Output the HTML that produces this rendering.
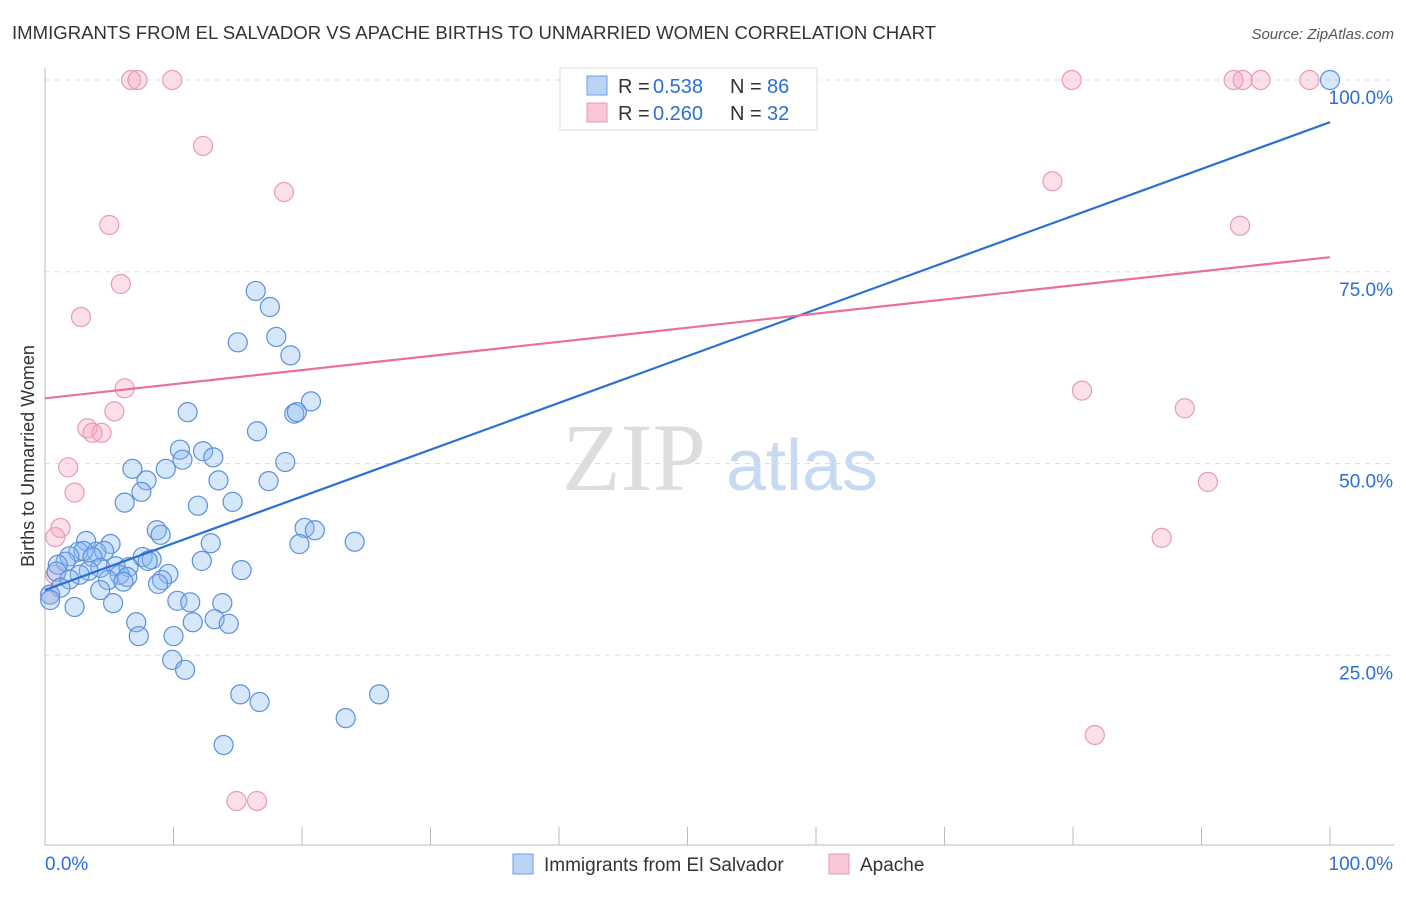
<!DOCTYPE html>
<html><head><meta charset="utf-8"><style>
body{margin:0;background:#fff;font-family:"Liberation Sans",sans-serif}
</style></head><body>
<svg id="chart" width="1406" height="892" xmlns="http://www.w3.org/2000/svg" font-family="Liberation Sans, sans-serif">
<text x="12" y="39" font-size="18" fill="#333" textLength="924" lengthAdjust="spacingAndGlyphs">IMMIGRANTS FROM EL SALVADOR VS APACHE BIRTHS TO UNMARRIED WOMEN CORRELATION CHART</text>
<text x="1394" y="39" font-size="15" fill="#555" font-style="italic" text-anchor="end">Source: ZipAtlas.com</text>
<text transform="translate(34,456) rotate(-90)" font-size="18" fill="#333" text-anchor="middle">Births to Unmarried Women</text>
<g>
<text x="634" y="490" font-size="96" fill="#ddd" font-family="Liberation Serif, serif" text-anchor="middle">ZIP</text>
<text x="802" y="490" font-size="72" fill="#c8daf2" text-anchor="middle">atlas</text>
</g>
<g id="grid"></g><g id="axes"></g><g id="lines"></g><g id="pts"></g>
<g>
<rect x="560" y="68" width="257" height="62" fill="#fff" stroke="#ddd"/>
<rect x="587" y="76" width="20" height="19" fill="#b9d3f5" stroke="#6d9ce0"/>
<rect x="587" y="103" width="20" height="19" fill="#f8c6d5" stroke="#e89ab3"/>
<text x="618" y="93" font-size="20" fill="#333">R =</text>
<text x="653" y="93" font-size="20" fill="#2a6fd6">0.538</text>
<text x="730" y="93" font-size="20" fill="#333">N =</text>
<text x="767" y="93" font-size="20" fill="#2a6fd6">86</text>
<text x="618" y="120" font-size="20" fill="#333">R =</text>
<text x="653" y="120" font-size="20" fill="#2a6fd6">0.260</text>
<text x="730" y="120" font-size="20" fill="#333">N =</text>
<text x="767" y="120" font-size="20" fill="#2a6fd6">32</text>
</g>
<g>
<rect x="513" y="854" width="20" height="20" fill="#b9d3f5" stroke="#6d9ce0"/>
<text x="544" y="871" font-size="19" fill="#333">Immigrants from El Salvador</text>
<rect x="829" y="854" width="20" height="20" fill="#f8c6d5" stroke="#e89ab3"/>
<text x="860" y="871" font-size="19" fill="#333">Apache</text>
</g>
</svg>
<script>
const blueX=[100,16.4,17.5,18.0,15.0,19.1,20.7,19.4,19.6,11.1,16.5,10.5,12.3,13.1,10.7,18.7,6.8,9.4,7.9,13.5,17.4,7.5,6.2,14.6,11.9,20.2,21.0,8.7,9.0,19.8,24.1,12.9,3.2,5.1,2.6,4.0,3.0,4.6,1.9,3.7,7.6,8.3,8.0,1.6,1.0,12.2,5.5,6.5,4.3,3.4,0.9,15.3,2.7,5.8,6.4,9.6,4.9,6.1,9.1,8.8,1.9,1.2,4.3,0.4,0.4,2.3,5.3,10.3,11.3,13.8,7.1,11.5,13.2,14.3,7.3,10.0,9.9,10.9,15.2,26.0,16.7,23.4,13.9];
const blueY=[100,72.5,70.4,66.5,65.8,64.1,58.1,56.5,56.7,56.7,54.2,51.8,51.6,50.8,50.5,50.2,49.3,49.3,47.8,47.8,47.7,46.3,44.9,45.0,44.5,41.6,41.3,41.3,40.7,39.5,39.8,39.6,39.9,39.5,38.5,38.5,38.6,38.6,37.9,37.8,37.8,37.5,37.3,37.2,36.8,37.3,36.6,36.5,36.4,36.0,35.9,36.1,35.5,35.5,35.2,35.6,34.8,34.6,34.8,34.3,34.9,33.8,33.5,32.9,32.2,31.3,31.8,32.1,31.9,31.8,29.3,29.3,29.7,29.1,27.5,27.5,24.4,23.1,19.9,19.9,18.9,16.8,13.3];
const pinkX=[6.7,7.2,9.9,79.9,92.5,93.2,94.6,98.4,12.3,18.6,78.4,5.0,93.0,5.9,2.8,6.2,80.7,5.4,88.7,3.3,3.7,4.4,1.8,2.3,90.5,1.2,0.8,86.9,0.8,81.7,14.9,16.5,0.4];
const pinkY=[100,100,100,100,100,100,100,100,91.4,85.4,86.8,81.1,81.0,73.4,69.1,59.8,59.5,56.8,57.2,54.6,54.0,54.0,49.5,46.2,47.6,41.6,40.4,40.3,35.5,14.6,6.0,6.0,32.9];
const blueTrend=[33.5,94.5];
const pinkTrend=[58.5,76.9];
const yTicks=[25,50,75,100];
const NS='http://www.w3.org/2000/svg';
const X=v=>45+v*12.85, Y=v=>847-v*7.67;
function mk(t,a,p){const e=document.createElementNS(NS,t);for(const k in a)e.setAttribute(k,a[k]);p.appendChild(e);return e;}
const grid=document.getElementById('grid'),axes=document.getElementById('axes'),lines=document.getElementById('lines'),pts=document.getElementById('pts');
yTicks.forEach(t=>{
 const l=mk('line',{x1:45,x2:1394,y1:Y(t),y2:Y(t),stroke:'#ddd','stroke-dasharray':'5,5'},grid);
 
 
 const tx=mk('text',{x:1393,y:Y(t)+24,'font-size':19,fill:'#2a6fd6','text-anchor':'end'},axes);tx.textContent=t.toFixed(1)+'%';
 
 
});
mk('line',{x1:45,x2:45,y1:68,y2:845,stroke:'#bbb'},axes);
mk('line',{x1:45,x2:1394,y1:845,y2:845,stroke:'#bbb'},axes);
for(let i=1;i<=10;i++){const t=mk('line',{x1:X(i*10),x2:X(i*10),y1:827,y2:845,stroke:'#bbb'},axes);
 
 }
const x0=mk('text',{x:45,y:870,'font-size':19,fill:'#2a6fd6'},axes);x0.textContent='0.0%';


const x1=mk('text',{x:1393,y:870,'font-size':19,fill:'#2a6fd6','text-anchor':'end'},axes);x1.textContent='100.0%';


function dots(xs,ys,fill,stroke,name){xs.forEach((x,i)=>{const c=mk('circle',{cx:X(x),cy:Y(ys[i]),r:9.5,fill:fill,stroke:stroke,'stroke-width':1.2},pts);
 
 });}
dots(pinkX,pinkY,'rgba(245,165,192,0.35)','#e99ab4','apache-point');
dots(blueX,blueY,'rgba(140,185,240,0.35)','#5b90dc','el-salvador-point');
const bl=mk('line',{x1:X(0),y1:Y(blueTrend[0]),x2:X(100),y2:Y(blueTrend[1]),stroke:'#2a6fd6','stroke-width':2.2},lines);


const pl=mk('line',{x1:X(0),y1:Y(pinkTrend[0]),x2:X(100),y2:Y(pinkTrend[1]),stroke:'#e8709a','stroke-width':2.2},lines);


pts.parentNode.appendChild(lines);
</script>
</body></html>
